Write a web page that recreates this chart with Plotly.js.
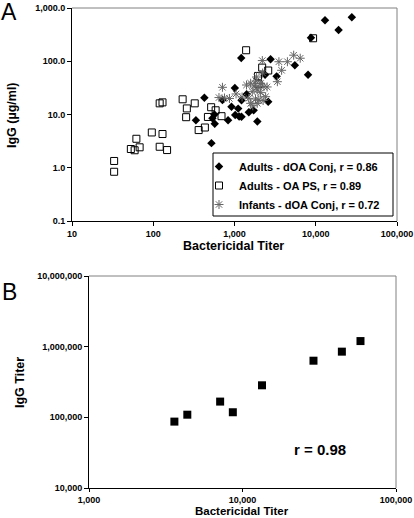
<!DOCTYPE html>
<html>
<head>
<meta charset="utf-8">
<script src="https://cdn.plot.ly/plotly-3.0.1.min.js"></script>
<style>html,body{margin:0;padding:0;background:#fff;}#chart{width:414px;height:518px;}</style>
</head>
<body>
<div id="chart"></div>
<script>
// Panel A: Adults - dOA Conj (filled diamonds)
const adultsConjTiter = [13000, 27800, 19100, 8730, 5530, 8040, 1210, 2780, 2380, 3300, 426, 1010, 1410, 711, 1220, 918, 1110, 1020, 1140, 1220, 1500, 1720, 2600, 1910, 335, 566, 535, 571, 834, 520];
const adultsConjIgG   = [588, 668, 386, 277, 84, 56, 115, 109, 56, 52, 20.6, 31.5, 23.9, 18.7, 18.5, 14.0, 12.9, 9.8, 9.2, 9.1, 11.0, 12.0, 17.3, 7.4, 7.8, 10.0, 8.5, 6.7, 7.8, 2.9];
// Panel A: Adults - OA PS (open squares)
const adultsPSTiter = [33, 33, 120, 130, 96, 130, 62, 53, 59, 68, 120, 148, 230, 259, 254, 324, 362, 432, 516, 586, 471, 692, 1390, 2190, 2600, 1950, 1980, 9270];
const adultsPSIgG   = [1.34, 0.84, 16.2, 16.9, 4.6, 4.3, 3.5, 2.25, 2.13, 2.42, 2.48, 2.15, 19.3, 13.0, 8.9, 16.2, 5.1, 5.7, 13.7, 12.0, 9.0, 9.3, 161, 76, 67, 53, 37, 270];
// Panel A: Infants - dOA Conj (asterisks)
const infantsTiter = [711, 644, 753, 867, 1045, 1240, 1500, 1815, 1995, 2250, 2415, 1680, 1580, 1905, 1655, 1905, 2095, 1405, 1580, 1730, 1950, 2300, 2520, 1840, 2095, 3370, 3800, 2200, 3520, 4480, 5350, 6440, 1870, 2220];
const infantsIgG   = [32.4, 20.8, 20.4, 20.0, 24.3, 21.3, 20.1, 19.5, 18.7, 18.3, 21.6, 14.6, 16.2, 16.2, 26.8, 28.8, 25.7, 35.8, 38.6, 34.3, 33.3, 33.3, 32.9, 42.6, 38.2, 41.3, 67.6, 103, 98, 98, 130, 114, 50.6, 60];
// Panel B
const bTiter = [3600, 4370, 7150, 8650, 13400, 29000, 44400, 58700];
const bIgG   = [87000, 109000, 167000, 118000, 284000, 633000, 850000, 1200000];

const legendNames = ["Adults - dOA Conj, r = 0.86", "Adults - OA PS, r = 0.89", "Infants - dOA Conj, r = 0.72"];
const aXTickVals = [10, 100, 1000, 10000, 100000];
const aXTickText = ["10", "100", "1,000", "10,000", "100,000"];
const aYTickVals = [0.1, 1, 10, 100, 1000];
const aYTickText = ["0.1", "1.0", "10.0", "100.0", "1,000.0"];
const bXTickVals = [1000, 10000, 100000];
const bXTickText = ["1,000", "10,000", "100,000"];
const bYTickVals = [10000, 100000, 1000000, 10000000];
const bYTickText = ["10,000", "100,000", "1,000,000", "10,000,000"];

const W = 414, H = 518;
const px = v => v / W;
const py = v => 1 - v / H;
const FONT = "Liberation Sans, Arial, sans-serif";
const tickFont = {family: FONT, size: 9, color: "#000", weight: "bold"};

const traces = [
  {x: adultsConjTiter, y: adultsConjIgG, type: "scatter", mode: "markers", name: legendNames[0],
   marker: {symbol: "diamond", size: 6.5, color: "#000"}, xaxis: "x", yaxis: "y"},
  {x: adultsPSTiter, y: adultsPSIgG, type: "scatter", mode: "markers", name: legendNames[1],
   marker: {symbol: "square-open", size: 7, color: "#000", line: {width: 1, color: "#000"}}, xaxis: "x", yaxis: "y"},
  {x: infantsTiter, y: infantsIgG, type: "scatter", mode: "markers", name: legendNames[2],
   marker: {symbol: "asterisk-open", size: 7.5, color: "#666", line: {width: 1, color: "#666"}}, xaxis: "x", yaxis: "y"},
  {x: bTiter, y: bIgG, type: "scatter", mode: "markers", showlegend: false,
   marker: {symbol: "square", size: 8, color: "#000"}, xaxis: "x2", yaxis: "y2"}
];

function axis(domain, range, vals, text, anchor, tlen) {
  return {type: "log", domain: domain, range: range, anchor: anchor,
    tickvals: vals, ticktext: text, tickfont: tickFont, ticklabeloverflow: "allow",
    ticks: "outside", ticklen: tlen || 4, tickcolor: "#000", tickwidth: 1,
    showline: true, linecolor: "#000", linewidth: 1,
    showgrid: false, zeroline: false, fixedrange: true};
}

function label(text, x, y, size, bold, angle) {
  const a = {text: text, xref: "paper", yref: "paper", x: px(x), y: py(y),
    xanchor: "center", yanchor: "middle", showarrow: false,
    font: {family: FONT, size: size, color: "#000", weight: bold ? "bold" : "normal"}};
  if (angle) a.textangle = angle;
  return a;
}

const layout = {
  width: W, height: H,
  margin: {l: 0, r: 0, t: 0, b: 0},
  paper_bgcolor: "#fff", plot_bgcolor: "#fff",
  font: {family: FONT, color: "#000"},
  xaxis: axis([px(72), px(397)], [1, 5], aXTickVals, aXTickText, "y"),
  yaxis: axis([py(221), py(8)], [-1, 3], aYTickVals, aYTickText, "x"),
  xaxis2: axis([px(89), px(396)], [3, 5], bXTickVals, bXTickText, "y2", 3),
  yaxis2: axis([py(488), py(276)], [4, 7], bYTickVals, bYTickText, "x2"),
  showlegend: true,
  legend: {x: px(199), y: py(152), xanchor: "left", yanchor: "top",
    bgcolor: "rgba(0,0,0,0)", borderwidth: 0,
    font: {family: FONT, size: 11, color: "#000", weight: "bold"},
    itemwidth: 30, tracegroupgap: 0},
  shapes: [
    {type: "line", xref: "paper", yref: "paper", x0: px(72), x1: px(397), y0: py(8), y1: py(8), line: {color: "#808080", width: 1}},
    {type: "line", xref: "paper", yref: "paper", x0: px(397), x1: px(397), y0: py(8), y1: py(221), line: {color: "#808080", width: 1}},
    {type: "line", xref: "paper", yref: "paper", x0: px(89), x1: px(396), y0: py(276), y1: py(276), line: {color: "#808080", width: 1}},
    {type: "line", xref: "paper", yref: "paper", x0: px(396), x1: px(396), y0: py(276), y1: py(488), line: {color: "#808080", width: 1}},
    {type: "rect", xref: "paper", yref: "paper", x0: px(213), x1: px(393), y0: py(216), y1: py(153), fillcolor: "#fff", line: {color: "#000", width: 1}, layer: "above"}
  ],
  annotations: [
    label("A", 9, 12, 23, false),
    label("B", 9, 292, 23, false),
    label("Bactericidal Titer", 234, 246, 12.5, true),
    label("IgG (µg/ml)", 12, 115, 12.5, true, -90),
    label("Bactericidal Titer", 242, 511, 11.5, true),
    label("IgG Titer", 20, 383, 12.5, true, -90),
    label("r = 0.98", 320, 449, 15, true)
  ]
};

Plotly.newPlot("chart", traces, layout, {staticPlot: true, displayModeBar: false});
</script>
</body>
</html>
